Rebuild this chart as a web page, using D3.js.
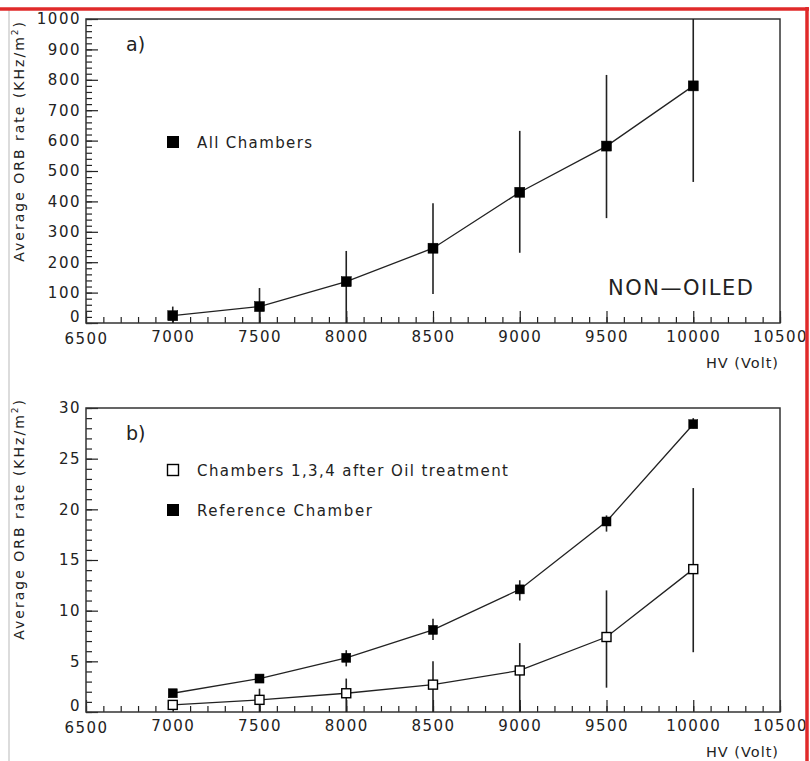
<!DOCTYPE html>
<html><head><meta charset="utf-8">
<script src="https://cdn.jsdelivr.net/npm/d3@7"></script>
<style>
body{margin:0;background:#fff}
svg{display:block}
text{font-family:"DejaVu Sans",sans-serif;fill:#222}
</style>
</head><body>
<svg id="c" width="810" height="761"></svg>
<script>
// ---- data ----
const hv = [7000, 7500, 8000, 8500, 9000, 9500, 10000];
const allRate = [24, 54, 136, 246, 430, 582, 780];
const allHigh = [54, 115, 237, 394, 632, 816, 1096];
const allLow  = [0, 0, 0, 95, 231, 345, 464];
const oiledRate = [0.7, 1.2, 1.85, 2.7, 4.1, 7.4, 14.1];
const oiledHigh = [1.0, 2.3, 3.3, 5.0, 6.8, 12.0, 22.1];
const oiledLow  = [0.4, 0, 0, 0, 0, 2.4, 5.9];
const refRate = [1.85, 3.3, 5.35, 8.1, 12.1, 18.8, 28.4];
const refHigh = [2.0, 3.6, 6.1, 9.2, 13.0, 19.4, 29.0];
const refLow  = [1.7, 3.0, 4.5, 7.1, 11.0, 17.8, 28.0];
const xTicks = [6500, 7000, 7500, 8000, 8500, 9000, 9500, 10000, 10500];
const yTicksA = [0, 100, 200, 300, 400, 500, 600, 700, 800, 900, 1000];
const yTicksB = [0, 5, 10, 15, 20, 25, 30];
const xTitle = "HV (Volt)";
const yTitle = "Average ORB rate (KHz/m";

const svg = d3.select("#c");
const L = 86, R = 780;

function drawPanel(cfg) {
  const g = svg.append("g");
  const x = d3.scaleLinear().domain([6500, 10500]).range([L, R]);
  const y = d3.scaleLinear().domain([0, cfg.yMax]).range([cfg.bottom, cfg.top]);

  g.append("defs").append("clipPath").attr("id", cfg.id)
    .append("rect").attr("x", L).attr("y", cfg.top).attr("width", R - L).attr("height", cfg.bottom - cfg.top);

  const xm = g.append("g").attr("transform", `translate(0,${cfg.bottom})`)
    .call(d3.axisBottom(x).tickValues(d3.range(6500, 10501, 100)).tickSizeInner(-6).tickSizeOuter(0).tickFormat(""));
  const xa = g.append("g").attr("transform", `translate(0,${cfg.bottom})`)
    .call(d3.axisBottom(x).tickValues(xTicks).tickSizeInner(-12).tickSizeOuter(0).tickPadding(8).tickFormat(d3.format("d")));
  const ym = g.append("g").attr("transform", `translate(${L},0)`)
    .call(d3.axisLeft(y).tickValues(d3.range(0, cfg.yMax + 1e-9, cfg.minor)).tickSizeInner(-6).tickSizeOuter(0).tickFormat(""));
  const ya = g.append("g").attr("transform", `translate(${L},0)`)
    .call(d3.axisLeft(y).tickValues(cfg.yTicks).tickSizeInner(-12).tickSizeOuter(0).tickPadding(5).tickFormat(d3.format("d")));
  [xm, xa, ym, ya].forEach(a => {
    a.select(".domain").remove();
    a.selectAll("line").attr("stroke", "#222").attr("stroke-width", 1.2);
    a.selectAll("text").attr("font-size", 15).attr("fill", "#222")
      .attr("font-family", "DejaVu Sans").style("letter-spacing", "1.5px");
  });
  ya.selectAll("text").filter(d => d === 0).attr("dy", "-0.1em");
  xa.selectAll("text").filter(d => d === 6500).attr("dy", "0.85em");

  g.append("rect").attr("x", L).attr("y", cfg.top).attr("width", R - L).attr("height", cfg.bottom - cfg.top)
    .attr("fill", "none").attr("stroke", "#333").attr("stroke-width", 1.5);

  g.append("text").attr("x", 779).attr("y", cfg.bottom + 45).attr("text-anchor", "end")
    .attr("font-size", 14.5).style("letter-spacing", "1px").text(xTitle);
  const yt = g.append("text").attr("transform", `translate(24,${cfg.titleEnd}) rotate(-90)`)
    .attr("text-anchor", "end").attr("font-size", 14).style("letter-spacing", "2px");
  yt.append("tspan").text(yTitle);
  yt.append("tspan").attr("font-size", 9).attr("dy", "-0.7em").text("2");
  yt.append("tspan").attr("dy", "0.45em").text(")");

  g.append("text").attr("x", 126).attr("y", cfg.top + 32).attr("font-size", 19).text(cfg.label);

  return {g, x, y};
}

function drawSeries(p, id, rate, low, high, filled, size) {
  const pts = hv.map((h, i) => ({h, v: rate[i], lo: low[i], hi: high[i]}));
  const c = p.g.append("g").attr("clip-path", `url(#${id})`);
  c.selectAll("line.err").data(pts).join("line").attr("class", "err")
    .attr("x1", d => p.x(d.h)).attr("x2", d => p.x(d.h))
    .attr("y1", d => p.y(d.lo)).attr("y2", d => p.y(d.hi))
    .attr("stroke", "#222").attr("stroke-width", 1.6);
  c.append("path").datum(pts)
    .attr("d", d3.line().x(d => p.x(d.h)).y(d => p.y(d.v)))
    .attr("fill", "none").attr("stroke", "#222").attr("stroke-width", 1.3);
  c.selectAll("rect.m").data(pts).join("rect").attr("class", "m")
    .attr("x", d => p.x(d.h) - size / 2).attr("y", d => p.y(d.v) - size / 2)
    .attr("width", size).attr("height", size)
    .attr("fill", filled ? "#000" : "#fff").attr("stroke", "#000").attr("stroke-width", filled ? 0.5 : 1.4);
}

const pa = drawPanel({id: "ca", top: 19, bottom: 323, yMax: 1000, minor: 20, yTicks: yTicksA, titleEnd: 20, label: "a)"});
drawSeries(pa, "ca", allRate, allLow, allHigh, true, 10);
pa.g.append("rect").attr("x", 167).attr("y", 136).attr("width", 12).attr("height", 12).attr("fill", "#000");
pa.g.append("text").attr("x", 197).attr("y", 148).attr("font-size", 15).attr("textLength", 115)
  .attr("lengthAdjust", "spacing").text("All Chambers");
pa.g.append("text").attr("x", 608).attr("y", 295).attr("font-size", 21).attr("fill", "#333")
  .attr("textLength", 145).attr("lengthAdjust", "spacing").text("NON\u2014OILED");

const pb = drawPanel({id: "cb", top: 408, bottom: 712, yMax: 30, minor: 1, yTicks: yTicksB, titleEnd: 398, label: "b)"});
drawSeries(pb, "cb", oiledRate, oiledLow, oiledHigh, false, 9);
drawSeries(pb, "cb", refRate, refLow, refHigh, true, 9);
pb.g.append("rect").attr("x", 167.5).attr("y", 464.5).attr("width", 11).attr("height", 11)
  .attr("fill", "#fff").attr("stroke", "#000").attr("stroke-width", 1.4);
pb.g.append("text").attr("x", 197).attr("y", 476).attr("font-size", 15).attr("textLength", 311)
  .attr("lengthAdjust", "spacing").text("Chambers 1,3,4 after Oil treatment");
pb.g.append("rect").attr("x", 167).attr("y", 504).attr("width", 12).attr("height", 12).attr("fill", "#000");
pb.g.append("text").attr("x", 197).attr("y", 516).attr("font-size", 15).attr("textLength", 175)
  .attr("lengthAdjust", "spacing").text("Reference Chamber");

svg.append("line").attr("x1", 9).attr("x2", 9).attr("y1", 10).attr("y2", 761).attr("stroke", "#d0d0d0").attr("stroke-width", 1.5);
svg.append("line").attr("x1", 0).attr("x2", 809).attr("y1", 9).attr("y2", 9).attr("stroke", "#e02a2a").attr("stroke-width", 3.5);
svg.append("line").attr("x1", 807).attr("x2", 807).attr("y1", 7).attr("y2", 761).attr("stroke", "#e02a2a").attr("stroke-width", 3.5);
</script>
</body></html>
